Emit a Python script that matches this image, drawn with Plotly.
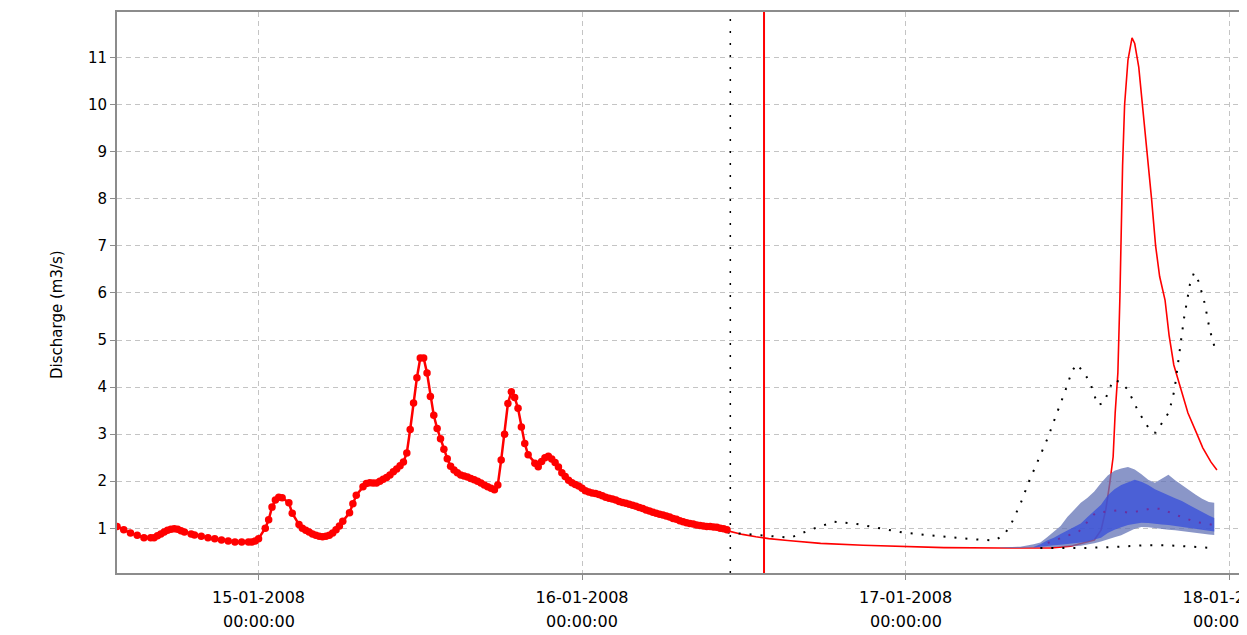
import pandas as pd
import plotly.graph_objects as go

BASE = pd.Timestamp("2008-01-15 00:00")

# ---- observed discharge (hours relative to 15-01-2008 00:00) ----
obs_hours = [-10.5, -10.0, -9.5, -9.0, -8.5, -8.0, -7.75, -7.5, -7.25, -7.0, -6.75, -6.5, -6.25, -6.0,
             -5.75, -5.5, -5.0, -4.75, -4.25, -3.75, -3.25, -2.75, -2.25, -1.75, -1.25, -0.75, -0.5,
             -0.25, 0.0, 0.5, 0.75, 1.0, 1.25, 1.5, 1.75, 2.25, 2.5, 3.0, 3.25, 3.5, 3.75, 4.0, 4.25,
             4.5, 4.75, 5.0, 5.25, 5.5, 5.75, 6.0, 6.25, 6.75, 7.0, 7.25, 7.75, 8.0, 8.25, 8.5, 8.75,
             9.0, 9.25, 9.5, 9.75, 10.0, 10.25, 10.5, 10.75, 11.0, 11.25, 11.5, 11.75, 12.0, 12.25,
             12.5, 12.75, 13.0, 13.25, 13.5, 13.75, 14.0, 14.25, 14.5, 14.75, 15.0, 15.25, 15.5,
             15.75, 16.0, 16.25, 16.5, 16.75, 17.0, 17.25, 17.5, 17.75, 18.0, 18.25, 18.5, 18.75,
             19.0, 19.25, 19.5, 19.75, 20.0, 20.5, 20.75, 21.0, 21.25, 21.5, 21.75, 22.0, 22.25,
             22.5, 22.75, 23.0, 23.25, 23.5, 23.75, 24.0, 24.25, 24.5, 24.75, 25.0, 25.25, 25.5,
             25.75, 26.0, 26.25, 26.5, 26.75, 27.0, 27.25, 27.5, 27.75, 28.0, 28.25, 28.5, 28.75,
             29.0, 29.25, 29.5, 29.75, 30.0, 30.25, 30.5, 30.75, 31.0, 31.25, 31.5, 31.75, 32.0,
             32.25, 32.5, 32.75, 33.0, 33.25, 33.5, 33.75, 34.0, 34.25, 34.5, 34.75]
obs_values = [1.04, 0.97, 0.90, 0.85, 0.80, 0.80, 0.80, 0.84, 0.88, 0.92, 0.96, 0.98, 0.99, 0.98,
              0.95, 0.92, 0.88, 0.86, 0.83, 0.80, 0.78, 0.75, 0.73, 0.71, 0.71, 0.71, 0.71,
              0.73, 0.78, 1.00, 1.18, 1.45, 1.60, 1.66, 1.65, 1.54, 1.32, 1.08, 1.00, 0.96, 0.92, 0.88, 0.85,
              0.83, 0.82, 0.83, 0.85, 0.90, 0.97, 1.05, 1.15, 1.33, 1.52, 1.70, 1.88, 1.95, 1.97, 1.96, 1.96,
              2.00, 2.04, 2.08, 2.13, 2.20, 2.26, 2.33, 2.41, 2.60, 3.10, 3.66, 4.20, 4.62, 4.62,
              4.30, 3.80, 3.40, 3.12, 2.90, 2.68, 2.48, 2.32, 2.24, 2.18, 2.13, 2.11, 2.09,
              2.06, 2.03, 2.00, 1.96, 1.92, 1.88, 1.85, 1.82, 1.92, 2.45, 3.00, 3.65, 3.90,
              3.78, 3.55, 3.15, 2.80, 2.56, 2.38, 2.31, 2.42, 2.50, 2.53, 2.47, 2.40, 2.30,
              2.18, 2.10, 2.02, 1.97, 1.93, 1.90, 1.85, 1.80, 1.77, 1.75, 1.74, 1.72, 1.69,
              1.66, 1.64, 1.62, 1.60, 1.57, 1.55, 1.53, 1.51, 1.49, 1.47, 1.44, 1.42, 1.39,
              1.37, 1.34, 1.32, 1.30, 1.28, 1.26, 1.24, 1.21, 1.19, 1.16, 1.14, 1.12, 1.10,
              1.09, 1.07, 1.06, 1.05, 1.04, 1.04, 1.03, 1.02, 1.00, 0.99, 0.97]

# ---- deterministic forecast ----
fc_hours = [34.75, 35.9, 36.9, 37.85, 39.25, 41.7, 44.85, 47.6, 50.85, 55.0, 58.8, 60.25, 61.25,
            62.0, 62.5, 62.85, 63.15, 63.4, 63.55, 63.75, 63.9, 64.1, 64.25, 64.5, 64.8, 65.0,
            65.3, 65.6, 65.95, 66.25, 66.55, 66.85, 67.25, 67.55, 67.9, 68.45, 68.95, 69.55,
            70.05, 70.65, 71.1]
fc_values = [0.95, 0.87, 0.82, 0.78, 0.74, 0.68, 0.64, 0.61, 0.59, 0.58, 0.58, 0.62, 0.70,
             0.75, 0.96, 1.39, 1.96, 2.52, 3.45, 4.30, 5.90, 8.70, 10.0, 10.95, 11.42, 11.30,
             10.8, 9.9, 9.0, 8.0, 7.0, 6.35, 5.85, 5.10, 4.47, 3.94, 3.45, 3.05,
             2.71, 2.41, 2.24]

# ---- ensemble maximum / minimum (dotted) ----
max_hours = [34.8, 37.6, 39.45, 41.05, 42.7, 44.4, 46.0, 47.8, 49.5, 51.2, 52.9, 54.6, 55.3, 55.8,
             56.55, 57.15, 57.9, 58.55, 59.15, 59.8, 60.35, 60.7, 61.25, 61.7, 62.25, 62.7, 63.4,
             63.95, 64.5, 65.25, 65.75, 66.2, 66.55, 67.0, 67.55, 67.95, 68.25, 68.65, 69.1, 69.4,
             69.75, 70.2, 70.55, 71.0]
max_values = [0.91, 0.84, 0.80, 0.98, 1.14, 1.09, 1.00, 0.91, 0.86, 0.81, 0.77, 0.74, 0.86, 1.07,
              1.54, 1.99, 2.47, 2.92, 3.39, 3.88, 4.34, 4.49, 4.30, 4.09, 3.62, 3.66, 4.15,
              4.11, 3.94, 3.49, 3.26, 3.05, 3.03, 3.24, 3.47, 3.94, 4.60, 5.45, 6.19, 6.43,
              6.24, 5.77, 5.24, 4.77]
min_hours = [58.0, 61.0, 63.25, 65.7, 67.45, 69.15, 70.85]
min_values = [0.58, 0.58, 0.60, 0.64, 0.64, 0.61, 0.58]

# ---- ensemble bands ----
band_hours = [55.0, 56.5, 57.5, 58.0, 58.5, 59.0, 59.5, 60.0, 60.5, 61.0, 61.5, 62.0, 62.5, 63.0,
              63.5, 64.0, 64.5, 65.0, 65.5, 66.0, 66.5, 67.0, 67.5, 68.0, 68.5, 69.0, 69.5, 70.0,
              70.5, 70.9]
outer_upper = [0.59, 0.61, 0.66, 0.70, 0.81, 0.92, 1.05, 1.24, 1.38, 1.54, 1.65, 1.78, 1.96, 2.12,
               2.22, 2.27, 2.30, 2.25, 2.15, 2.03, 1.97, 2.05, 2.14, 2.02, 1.92, 1.81, 1.72, 1.63,
               1.56, 1.54]
outer_lower = [0.58, 0.58, 0.59, 0.59, 0.60, 0.60, 0.61, 0.62, 0.62, 0.63, 0.65, 0.68, 0.72, 0.76,
               0.81, 0.85, 0.92, 0.99, 1.03, 1.02, 1.00, 0.99, 0.97, 0.96, 0.94, 0.92, 0.91, 0.89,
               0.87, 0.86]
inner_hours = band_hours[2:]
inner_upper = [0.60, 0.66, 0.74, 0.80, 0.88, 0.95, 1.03, 1.10, 1.24, 1.36, 1.50, 1.70, 1.83, 1.92,
               1.98, 2.03, 1.99, 1.92, 1.83, 1.76, 1.70, 1.64, 1.58, 1.50, 1.42, 1.34, 1.27, 1.22]
inner_lower = [0.59, 0.61, 0.62, 0.64, 0.65, 0.67, 0.68, 0.70, 0.72, 0.76, 0.80, 0.90, 0.97, 1.02,
               1.07, 1.10, 1.12, 1.11, 1.10, 1.08, 1.07, 1.05, 1.03, 1.02, 0.99, 0.97, 0.95, 0.93]

# ---- ensemble median ----
med_hours = [58.55, 59.3, 60.1, 60.85, 61.5, 62.1, 63.75, 64.55, 65.45, 66.2, 67.1, 67.85, 68.65,
             69.4, 70.3, 70.8]
med_values = [0.69, 0.77, 0.86, 0.93, 1.14, 1.33, 1.38, 1.33, 1.37, 1.42, 1.41, 1.30, 1.23,
              1.14, 1.10, 1.07]

# ---- markers in time ----
forecast_start_hour = 35.0
now_hour = 37.5

x_range_hours = [-10.5, 73.33]
y_range = [0.05, 11.97]
y_ticks = [1, 2, 3, 4, 5, 6, 7, 8, 9, 10, 11]
x_tick_dates = ["2008-01-15", "2008-01-16", "2008-01-17", "2008-01-18"]
x_tick_labels = ["15-01-2008", "16-01-2008", "17-01-2008", "18-01-2008"]
x_tick_times = ["00:00:00", "00:00:00", "00:00:00", "00:00:00"]
y_title = "Discharge (m3/s)"


def t(hours):
    return list(BASE + pd.to_timedelta(hours, unit="h"))


FONT = "DejaVu Sans"
fig = go.Figure()

fig.add_trace(go.Scatter(x=t(fc_hours), y=fc_values, mode="lines",
                         line=dict(color="#ff0000", width=1.6), showlegend=False))

ob = t(band_hours)
fig.add_trace(go.Scatter(x=ob + ob[::-1], y=outer_upper + outer_lower[::-1], mode="lines",
                         fill="toself", fillcolor="rgba(99,115,182,0.75)",
                         line=dict(width=0), showlegend=False))
ib = t(inner_hours)
fig.add_trace(go.Scatter(x=ib + ib[::-1], y=inner_upper + inner_lower[::-1], mode="lines",
                         fill="toself", fillcolor="rgba(53,77,219,0.75)",
                         line=dict(width=0), showlegend=False))

fig.add_trace(go.Scatter(x=t(med_hours), y=med_values, mode="lines",
                         line=dict(color="#6b2f9e", width=2, dash="2px,9px"), showlegend=False))
fig.add_trace(go.Scatter(x=t(max_hours), y=max_values, mode="lines",
                         line=dict(color="#000000", width=2, dash="2px,9px"), showlegend=False))
fig.add_trace(go.Scatter(x=t(min_hours), y=min_values, mode="lines",
                         line=dict(color="#000000", width=2, dash="2px,9px"), showlegend=False))

fig.add_trace(go.Scatter(x=t(obs_hours), y=obs_values, mode="lines+markers",
                         line=dict(color="#ff0000", width=2.5),
                         marker=dict(color="#ff0000", size=7.5, symbol="circle"),
                         showlegend=False))

fs = t([forecast_start_hour])[0]
nw = t([now_hour])[0]
fig.add_shape(type="line", xref="x", yref="paper", x0=fs, x1=fs, y0=0, y1=1,
              line=dict(color="#000000", width=1.5, dash="2px,10px"))
fig.add_shape(type="line", xref="x", yref="paper", x0=nw, x1=nw, y0=0, y1=1,
              line=dict(color="#ff0000", width=2))

for d, tt in zip(x_tick_dates, x_tick_times):
    fig.add_annotation(x=d, xref="x", y=0, yref="paper", yshift=-48, yanchor="middle",
                       text=tt, showarrow=False,
                       font=dict(family=FONT, size=16, color="#000000"))

# y-axis title, placed like the reference (slightly below the plot centre)
fig.add_annotation(x=-0.0531, xref="paper", y=0.4617, yref="paper", xanchor="center",
                   yanchor="middle", textangle=-90, text=y_title, showarrow=False,
                   font=dict(family=FONT, size=15, color="#000000"))

xr = t(x_range_hours)
# the page body adds an 8px offset, so the figure is 8px smaller on each axis
fig.update_layout(
    width=1239, height=627,
    margin=dict(l=109, r=0, t=4, b=62, autoexpand=False),
    paper_bgcolor="white", plot_bgcolor="white",
    font=dict(family=FONT, size=15, color="#000000"),
    xaxis=dict(type="date", range=xr, tickvals=x_tick_dates, ticktext=x_tick_labels,
               automargin=False,
               showgrid=True, gridcolor="#c4c4c4", gridwidth=1, griddash="5px,4px",
               showline=True, linecolor="#8c8c8c", linewidth=2, mirror=True,
               ticks="outside", ticklen=5, tickcolor="#8c8c8c",
               ticklabeloverflow="allow", ticklabelstandoff=4, zeroline=False,
               tickfont=dict(family=FONT, size=16)),
    yaxis=dict(range=y_range, tickvals=y_ticks, showgrid=True, gridcolor="#c4c4c4",
               automargin=False,
               gridwidth=1, griddash="5px,4px",
               showline=True, linecolor="#8c8c8c", linewidth=2, mirror=False,
               ticks="outside", ticklen=5, tickcolor="#8c8c8c", zeroline=False,
               tickfont=dict(family=FONT, size=15)),
)

fig.write_html("out.html")
